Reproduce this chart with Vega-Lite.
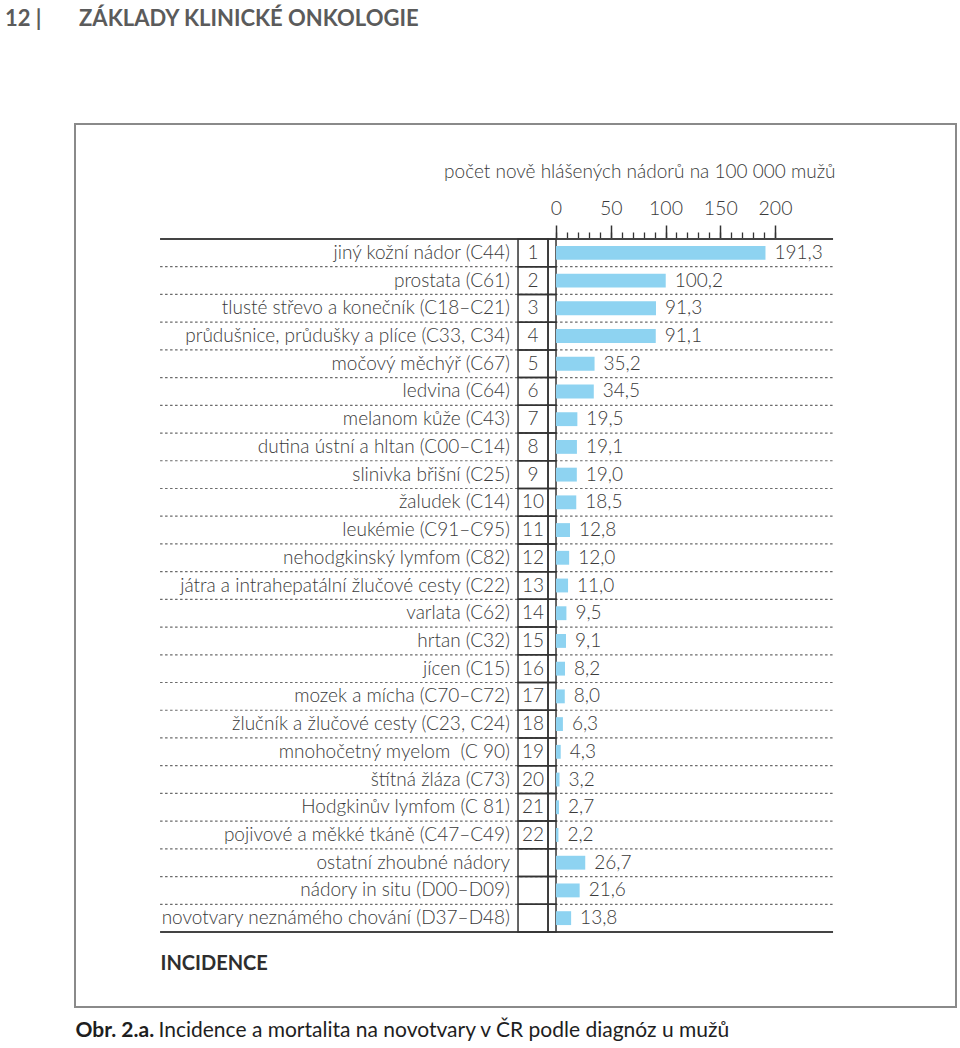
{
  "$schema": "https://vega.github.io/schema/vega-lite/v6.json",
  "autosize": {"type": "none"},
  "padding": {"left": 75, "top": 124, "right": 4, "bottom": 41},
  "width": 881,
  "height": 883,
  "background": "white",
  "title": {
    "text": "12 |\u00a0\u00a0\u00a0\u00a0\u00a0\u00a0\u00a0ZÁKLADY KLINICKÉ ONKOLOGIE",
    "anchor": "start",
    "frame": "group",
    "dx": -70,
    "offset": 71,
    "baseline": "bottom",
    "font": "Lato",
    "fontSize": 22,
    "fontWeight": "bold",
    "color": "#5b5b5b"
  },
  "config": {
    "view": {"stroke": "#8a8a8a", "strokeWidth": 2},
    "locale": {"number": {"decimal": ",", "thousands": " ", "grouping": [3], "currency": ["", ""]}},
    "text": {"font": "Lato", "fontSize": 19, "fontWeight": 300, "color": "#3a3a3a"},
    "axis": {"labelFont": "Lato", "titleFont": "Lato"}
  },
  "data": {
    "values": [
      {"name": "jiný kožní nádor (C44)", "rank": "1", "value": 191.3},
      {"name": "prostata (C61)", "rank": "2", "value": 100.2},
      {"name": "tlusté střevo a konečník (C18–C21)", "rank": "3", "value": 91.3},
      {"name": "průdušnice, průdušky a plíce (C33, C34)", "rank": "4", "value": 91.1},
      {"name": "močový měchýř (C67)", "rank": "5", "value": 35.2},
      {"name": "ledvina (C64)", "rank": "6", "value": 34.5},
      {"name": "melanom kůže (C43)", "rank": "7", "value": 19.5},
      {"name": "dutina ústní a hltan (C00–C14)", "rank": "8", "value": 19.1},
      {"name": "slinivka břišní (C25)", "rank": "9", "value": 19.0},
      {"name": "žaludek (C14)", "rank": "10", "value": 18.5},
      {"name": "leukémie (C91–C95)", "rank": "11", "value": 12.8},
      {"name": "nehodgkinský lymfom (C82)", "rank": "12", "value": 12.0},
      {"name": "játra a intrahepatální žlučové cesty (C22)", "rank": "13", "value": 11.0},
      {"name": "varlata (C62)", "rank": "14", "value": 9.5},
      {"name": "hrtan (C32)", "rank": "15", "value": 9.1},
      {"name": "jícen (C15)", "rank": "16", "value": 8.2},
      {"name": "mozek a mícha (C70–C72)", "rank": "17", "value": 8.0},
      {"name": "žlučník a žlučové cesty (C23, C24)", "rank": "18", "value": 6.3},
      {"name": "mnohočetný myelom\u00a0 (C 90)", "rank": "19", "value": 4.3},
      {"name": "štítná žláza (C73)", "rank": "20", "value": 3.2},
      {"name": "Hodgkinův lymfom (C 81)", "rank": "21", "value": 2.7},
      {"name": "pojivové a měkké tkáně (C47–C49)", "rank": "22", "value": 2.2},
      {"name": "ostatní zhoubné nádory", "rank": "", "value": 26.7},
      {"name": "nádory in situ (D00–D09)", "rank": "", "value": 21.6},
      {"name": "novotvary neznámého chování (D37–D48)", "rank": "", "value": 13.8}
    ]
  },
  "resolve": {"axis": {"x": "independent"}},
  "layer": [
    {
      "mark": {"type": "rule", "strokeDash": [2.5, 2.5], "stroke": "#6a6a6a", "strokeWidth": 1.2},
      "encoding": {
        "x": {"datum": -361.6, "type": "quantitative", "scale": {"domain": [-439.3, 365.3], "nice": false},
          "axis": {"orient": "top", "offset": -115, "values": [0,10,20,30,40,50,60,70,80,90,100,110,120,130,140,150,160,170,180,190,200],
            "tickSize": 7, "tickWidth": 1.3, "tickColor": "#333333", "labels": false, "domain": false, "grid": false, "title": null}},
        "x2": {"datum": 253.0},
        "y": {"field": "name", "type": "nominal", "sort": null, "bandPosition": 0,
          "scale": {"range": [115, 808], "paddingInner": 0, "paddingOuter": 0}, "axis": null}
      }
    },
    {
      "mark": {"type": "rule", "stroke": "#444444", "strokeWidth": 2},
      "encoding": {
        "x": {"datum": -361.6, "type": "quantitative", "scale": {"domain": [-439.3, 365.3], "nice": false}, "axis": null},
        "x2": {"datum": 253.0},
        "y": {"field": "name", "type": "nominal", "sort": null, "bandPosition": 0, "axis": null},
        "strokeOpacity": {"condition": {"test": "datum.rank === '1'", "value": 1}, "value": 0}
      }
    },
    {
      "mark": {"type": "rule", "stroke": "#444444", "strokeWidth": 2},
      "encoding": {
        "x": {"datum": -361.6, "type": "quantitative", "scale": {"domain": [-439.3, 365.3], "nice": false}, "axis": null},
        "x2": {"datum": 253.0},
        "y": {"field": "name", "type": "nominal", "sort": null, "bandPosition": 1, "axis": null},
        "strokeOpacity": {"condition": {"test": "datum.name === 'novotvary neznámého chování (D37–D48)'", "value": 1}, "value": 0}
      }
    },
    {
      "mark": {"type": "rect", "stroke": "#333333", "strokeWidth": 1.5, "fillOpacity": 0},
      "encoding": {
        "x": {"datum": -34.7, "type": "quantitative", "scale": {"domain": [-439.3, 365.3], "nice": false}, "axis": null},
        "x2": {"datum": -7.31},
        "y": {"field": "name", "type": "nominal", "sort": null, "axis": null}
      }
    },
    {
      "mark": {"type": "rect", "stroke": "#333333", "strokeWidth": 1.5, "fillOpacity": 0},
      "encoding": {
        "x": {"datum": -7.31, "type": "quantitative", "scale": {"domain": [-439.3, 365.3], "nice": false}, "axis": null},
        "x2": {"datum": 0},
        "y": {"field": "name", "type": "nominal", "sort": null, "axis": null}
      }
    },
    {
      "mark": {"type": "bar", "height": {"band": 0.5}, "color": "#8ed3f1"},
      "encoding": {
        "x": {"field": "value", "type": "quantitative", "scale": {"domain": [-439.3, 365.3], "nice": false},
          "axis": {"orient": "top", "offset": -115, "values": [0, 50, 100, 150, 200], "tickSize": 14, "tickWidth": 1.5,
            "tickColor": "#333333", "domain": false, "grid": false, "labelFontSize": 19.5, "labelFontWeight": 300,
            "labelColor": "#3a3a3a", "labelPadding": 7,
            "title": "počet nově hlášených nádorů na 100 000 mužů", "titleX": 760, "titleY": -68,
            "titleAlign": "right", "titleAnchor": null, "titleBaseline": "middle", "titleFontSize": 19,
            "titleFontWeight": 300, "titleColor": "#3a3a3a"}},
        "y": {"field": "name", "type": "nominal", "sort": null, "axis": null}
      }
    },
    {
      "mark": {"type": "text", "align": "left", "baseline": "middle", "dx": 9},
      "encoding": {
        "x": {"field": "value", "type": "quantitative", "scale": {"domain": [-439.3, 365.3], "nice": false},
          "axis": {"orient": "bottom", "offset": -75, "labels": false, "ticks": false, "domain": false, "grid": false,
            "title": "INCIDENCE", "titleX": 85, "titleY": 31, "titleAlign": "left", "titleAnchor": null,
            "titleBaseline": "middle", "titleFontSize": 20, "titleFontWeight": "bold", "titleColor": "#2e2e2e"}},
        "y": {"field": "name", "type": "nominal", "sort": null, "axis": null},
        "text": {"field": "value", "type": "quantitative", "format": ".1f"}
      }
    },
    {
      "mark": {"type": "text", "align": "center", "baseline": "middle", "dx": -23},
      "encoding": {
        "x": {"datum": 0, "type": "quantitative", "scale": {"domain": [-439.3, 365.3], "nice": false},
          "axis": {"orient": "bottom", "offset": 0, "labels": false, "ticks": false, "domain": false, "grid": false,
            "title": "Obr. 2.a.", "titleX": 0, "titleY": 23, "titleAlign": "left", "titleAnchor": null,
            "titleBaseline": "middle", "titleFontSize": 21, "titleFontWeight": "bold", "titleColor": "#1e1e1e"}},
        "y": {"field": "name", "type": "nominal", "sort": null, "axis": null},
        "text": {"field": "rank", "type": "nominal"}
      }
    },
    {
      "mark": {"type": "text", "align": "right", "baseline": "middle", "dx": -46},
      "encoding": {
        "x": {"datum": 0, "type": "quantitative", "scale": {"domain": [-439.3, 365.3], "nice": false},
          "axis": {"orient": "bottom", "offset": 0, "labels": false, "ticks": false, "domain": false, "grid": false,
            "title": "Incidence a mortalita na novotvary v ČR podle diagnóz u mužů", "titleX": 83, "titleY": 23,
            "titleAlign": "left", "titleAnchor": null, "titleBaseline": "middle", "titleFontSize": 21,
            "titleFontWeight": "normal", "titleColor": "#1e1e1e"}},
        "y": {"field": "name", "type": "nominal", "sort": null, "axis": null},
        "text": {"field": "name", "type": "nominal"}
      }
    }
  ]
}
